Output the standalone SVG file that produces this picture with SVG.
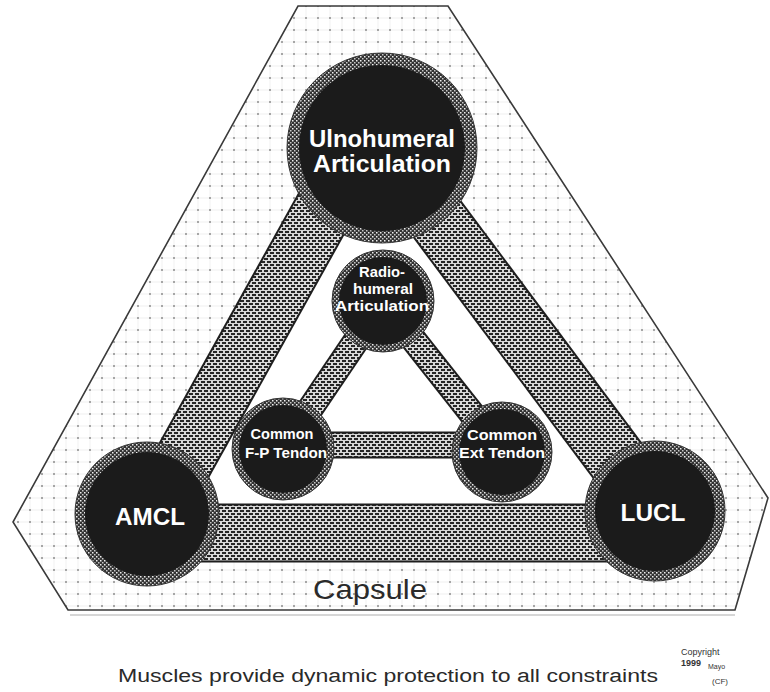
<svg xmlns="http://www.w3.org/2000/svg" width="770" height="692" viewBox="0 0 770 692">
  <style>
    .lbl { font-family: "Liberation Sans", Arial, sans-serif; fill: #ffffff; font-weight: bold; text-anchor: middle; }
    .cap { font-family: "Liberation Sans", Arial, sans-serif; fill: #2a2a2a; text-anchor: middle; }
    .band-edge { stroke: #1e1e1e; fill: none; stroke-linecap: butt; }
    .band { stroke: url(#hatch); fill: none; stroke-linecap: butt; }
    .ring { fill: url(#stipple); stroke: #333; stroke-width: 1; }
    .core { fill: #1b1b1b; }
  </style>
  <defs>
    <pattern id="dots" patternUnits="userSpaceOnUse" width="12" height="12">
      <rect width="12" height="12" fill="#ffffff"/>
      <line x1="0" y1="6" x2="12" y2="6" stroke="#f0f0f0" stroke-width="1"/>
      <line x1="6" y1="0" x2="6" y2="12" stroke="#f2f2f2" stroke-width="1"/>
      <rect x="5" y="5" width="2" height="2" fill="#a6a6a6"/>
    </pattern>
    <pattern id="hatch" patternUnits="userSpaceOnUse" width="6" height="6">
      <rect width="6" height="6" fill="#d8d8d8"/>
      <rect x="0" y="0" width="4" height="2" fill="#262626"/>
      <rect x="3" y="3" width="4" height="2" fill="#262626"/>
      <rect x="-3" y="3" width="4" height="2" fill="#262626"/>
    </pattern>
    <pattern id="stipple" patternUnits="userSpaceOnUse" width="4" height="4">
      <rect width="4" height="4" fill="#333333"/>
      <rect x="0" y="0" width="1.5" height="1.5" fill="#f0f0f0"/>
      <rect x="2" y="2" width="1.5" height="1.5" fill="#c8c8c8"/>
    </pattern>
  </defs>

  <rect width="770" height="692" fill="#ffffff"/>

  <g id="capsule">
    <polygon points="298,6 448,6 768,498 735,610 68,610 13,522" fill="url(#dots)" stroke="#3a3a3a" stroke-width="1.6"/>
    <line x1="70" y1="615" x2="735" y2="615" stroke="#d6d6d6" stroke-width="2"/>
    <polygon points="358,148 384,148 655,511 655,533 154,533 154,514" fill="#ffffff"/>
    <text class="cap" x="370" y="599" font-size="28" textLength="114" lengthAdjust="spacingAndGlyphs">Capsule</text>
  </g>

  <g id="connectors">
    <line class="band-edge" x1="358" y1="148" x2="154" y2="514" stroke-width="61"/>
    <line class="band" x1="358" y1="148" x2="154" y2="514" stroke-width="57"/>
    <line class="band-edge" x1="384" y1="148" x2="655" y2="511" stroke-width="61"/>
    <line class="band" x1="384" y1="148" x2="655" y2="511" stroke-width="57"/>
    <line class="band-edge" x1="147" y1="533" x2="655" y2="533" stroke-width="59"/>
    <line class="band" x1="147" y1="533" x2="655" y2="533" stroke-width="55"/>
    <line class="band-edge" x1="383" y1="301" x2="283" y2="449" stroke-width="27"/>
    <line class="band" x1="383" y1="301" x2="283" y2="449" stroke-width="23"/>
    <line class="band-edge" x1="383" y1="301" x2="502" y2="452" stroke-width="27"/>
    <line class="band" x1="383" y1="301" x2="502" y2="452" stroke-width="23"/>
    <line class="band-edge" x1="283" y1="445" x2="502" y2="445" stroke-width="27"/>
    <line class="band" x1="283" y1="445" x2="502" y2="445" stroke-width="23"/>
  </g>

  <g id="ulnohumeral">
    <circle class="ring" cx="382" cy="148" r="95"/>
    <circle class="core" cx="382" cy="148" r="83"/>
    <text class="lbl" x="382" y="147" font-size="24" textLength="146" lengthAdjust="spacingAndGlyphs">Ulnohumeral</text>
    <text class="lbl" x="382" y="172" font-size="24" textLength="138" lengthAdjust="spacingAndGlyphs">Articulation</text>
  </g>

  <g id="radiohumeral">
    <circle class="ring" cx="383" cy="301" r="51"/>
    <circle class="core" cx="383" cy="301" r="44"/>
    <text class="lbl" x="382" y="277" font-size="15" textLength="46" lengthAdjust="spacingAndGlyphs">Radio-</text>
    <text class="lbl" x="383" y="294" font-size="15" textLength="60" lengthAdjust="spacingAndGlyphs">humeral</text>
    <text class="lbl" x="382" y="311" font-size="15" textLength="94" lengthAdjust="spacingAndGlyphs">Articulation</text>
  </g>

  <g id="common-fp-tendon">
    <circle class="ring" cx="283" cy="449" r="51"/>
    <circle class="core" cx="283" cy="449" r="44"/>
    <text class="lbl" x="282" y="439" font-size="15" textLength="63" lengthAdjust="spacingAndGlyphs">Common</text>
    <text class="lbl" x="286" y="458" font-size="15" textLength="82" lengthAdjust="spacingAndGlyphs">F-P Tendon</text>
  </g>

  <g id="common-ext-tendon">
    <circle class="ring" cx="502" cy="452" r="50"/>
    <circle class="core" cx="502" cy="452" r="43"/>
    <text class="lbl" x="502" y="440" font-size="15" textLength="70" lengthAdjust="spacingAndGlyphs">Common</text>
    <text class="lbl" x="502" y="458" font-size="15" textLength="86" lengthAdjust="spacingAndGlyphs">Ext Tendon</text>
  </g>

  <g id="amcl">
    <circle class="ring" cx="147" cy="514" r="72"/>
    <circle class="core" cx="147" cy="514" r="62"/>
    <text class="lbl" x="150" y="525" font-size="24" textLength="70" lengthAdjust="spacingAndGlyphs">AMCL</text>
  </g>

  <g id="lucl">
    <circle class="ring" cx="655" cy="511" r="70"/>
    <circle class="core" cx="655" cy="511" r="60"/>
    <text class="lbl" x="653" y="521" font-size="24" textLength="65" lengthAdjust="spacingAndGlyphs">LUCL</text>
  </g>

  <g id="footer">
    <text class="cap" x="388" y="682" font-size="18" fill="#333" textLength="540" lengthAdjust="spacingAndGlyphs">Muscles provide dynamic protection to all constraints</text>
    <text x="681" y="655" font-family="Liberation Sans, Arial, sans-serif" font-size="9" fill="#333">Copyright</text>
    <text x="681" y="666" font-family="Liberation Sans, Arial, sans-serif" font-size="9" font-weight="bold" fill="#333">1999</text>
    <text x="708" y="669" font-family="Liberation Sans, Arial, sans-serif" font-size="7" fill="#333">Mayo</text>
    <text x="712" y="684" font-family="Liberation Sans, Arial, sans-serif" font-size="8" fill="#333">(CF)</text>
  </g>
</svg>
